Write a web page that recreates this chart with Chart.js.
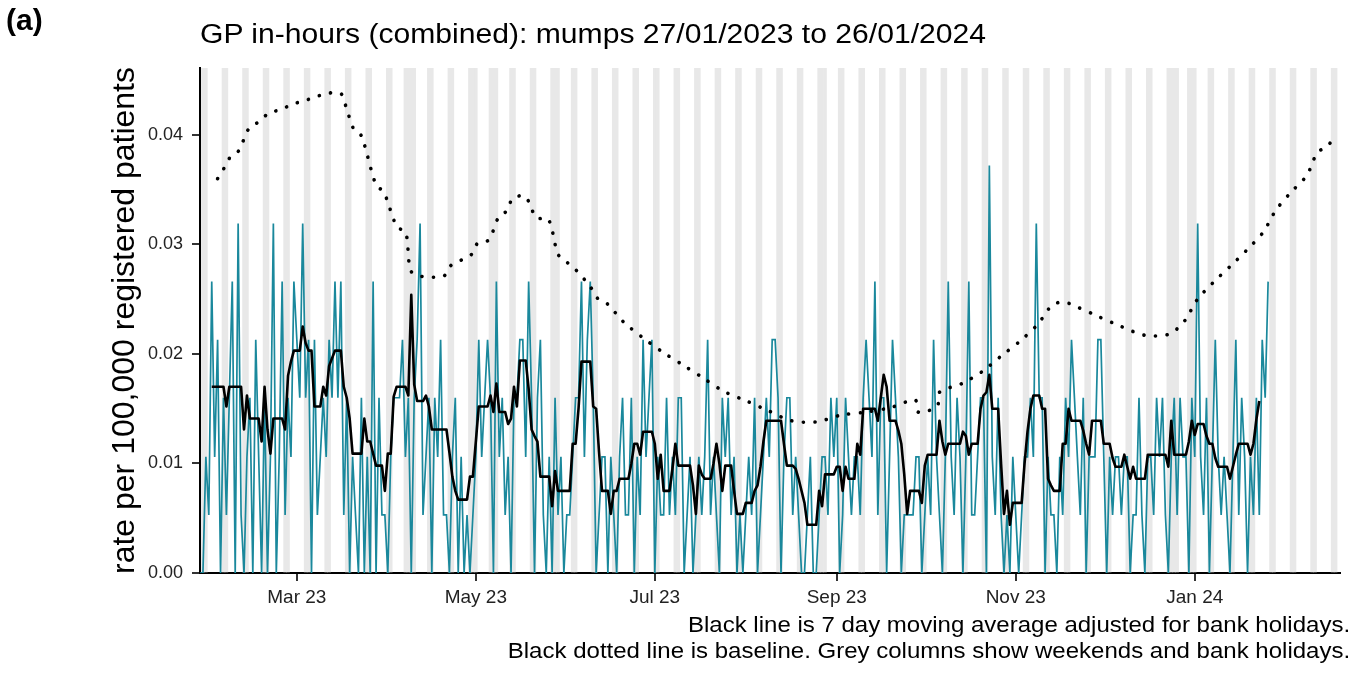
<!DOCTYPE html>
<html>
<head>
<meta charset="utf-8">
<script src="https://cdn.jsdelivr.net/npm/chart.js@4.4.1/dist/chart.umd.min.js"></script>
<style>
  body { margin: 0; background: #fff; font-family: "Liberation Sans", Arial, sans-serif; }
  #wrap { position: relative; width: 1362px; height: 675px; }
  canvas { position: absolute; left: 0; top: 0; }
  .txt { position: absolute; color: #000; white-space: nowrap; }
  #panel { left: 6px; top: 3px; font-size: 30px; font-weight: bold; }
  #title { left: 200px; top: 19px; font-size: 27px; transform: scaleX(1.115); transform-origin: left top; }
  #note { right: 12px; top: 612px; font-size: 21.5px; text-align: right; line-height: 26px;
          transform: scaleX(1.117); transform-origin: right top; }
</style>
</head>
<body>
<div id="wrap">
  <canvas id="chart" width="1362" height="675"></canvas>
  <div class="txt" id="panel">(a)</div>
  <div class="txt" id="title">GP in-hours (combined): mumps 27/01/2023 to 26/01/2024</div>
  <div class="txt" id="note">Black line is 7 day moving average adjusted for bank holidays.<br>Black dotted line is baseline. Grey columns show weekends and bank holidays.</div>
</div>
<script>
// day 0 = Fri 27/01/2023
const startDate = new Date(2023, 0, 27);
const lastShadedDay = 388;

const tickDays = [33, 94, 155, 217, 278, 339];
const tickLabels = ["Mar 23", "May 23", "Jul 23", "Sep 23", "Nov 23", "Jan 24"];
const yTicks = [0, 0.01, 0.02, 0.03, 0.04];

const bankHolidays = ["2023-04-07", "2023-04-10", "2023-05-01", "2023-05-08", "2023-05-29",
  "2023-08-28", "2023-12-25", "2023-12-26", "2024-01-01"];

// daily rate, days 0..364
const dailyRate = [
  0, 0, .0106, .0053, .0266, .0106, .0213,
  0, .016, .0053, .016, .0266, 0, .0319,
  .0053, 0, .0106, .016, 0, .0213, .0106,
  0, .016, 0, .0106, .0319, 0, .0106,
  .0266, .0053, .016, .0106, .0266, .0213, .016,
  .0319, .016, .0213, 0, .0213, .0053, .0106,
  .016, .0106, .0213, .016, .0266, .016, .0266,
  .0053, .016, 0, .0106, .0053, 0, .016,
  0, .0106, 0, .0266, 0, .016, .0053,
  .0053, 0, .0106, .016, .016, .016, .0213,
  .0106, .016, 0, .016, .0213, .0319, .0053,
  .0106, .016, 0, .016, .0106, .0213, .0053,
  .0053, 0, .0106, .016, 0, .0106, 0,
  .0053, 0, .0053, .0106, .0213, .0106, .016,
  .0213, .016, 0, .0266, .0106, .016, .0053,
  .0106, 0, .016, .016, .0213, .0213, .0106,
  .0266, .016, 0, .016, .0213, .0053, 0,
  .0106, 0, .016, .0053, .0106, 0, .0053,
  .0053, .0106, .016, .016, .0266, .0106, .0213,
  .0266, .016, 0, .0053, .0106, .0106, 0,
  .0106, .0053, 0, .0106, .016, .0053, .0053,
  .016, 0, .0106, .0053, .0213, .0106, .016,
  .0213, 0, .0106, .0053, .0053, .016, .0053,
  .0106, .0053, .016, .016, 0, .0053, .0106,
  0, .0053, .0106, .0053, .0106, .0213, .0053,
  .0106, .0053, 0, .016, .0106, .016, .0053,
  .0106, 0, .0053, 0, .0053, .0106, .0053,
  .016, 0, .0053, .0106, .016, .0106, .0213,
  .0213, .016, 0, .0106, .016, .016, .0053,
  .0106, .0053, 0, 0, .0053, .0106, 0,
  0, .0053, .0106, .0106, .0053, .016, .0106,
  .016, 0, .0053, .016, .0106, .0053, .0106,
  .0106, .0053, .016, .0213, .016, .0106, .0266,
  .0053, .016, .016, 0, .0106, .0213, .016,
  .0106, 0, .0053, .0053, .0053, .0053, .0106,
  .0106, 0, .0053, .0106, .0053, .0213, .0106,
  .0053, 0, .0106, .0266, .0106, .0053, .016,
  .0106, 0, .0106, .0266, .0053, .0053, .0106,
  .016, .016, 0, .0372, .0106, .0053, .016,
  .0053, 0, .0053, 0, .0106, .0053, 0,
  .0053, .0106, .0106, .016, .0106, .0319, .016,
  .016, 0, .0106, .0053, .0053, 0, .0106,
  .0053, .016, .0106, .0213, .016, .0106, .0053,
  .016, 0, .0106, .0106, .0106, .0213, .0213,
  .0106, 0, .0106, .0053, .0106, .0106, .0053,
  .0106, .0106, 0, .0053, .0053, .016, .0053,
  0, .0106, .0106, .0053, .016, .0106, .016,
  .0053, 0, .0106, .016, .0053, .016, .0106,
  .0106, 0, .016, .0106, .0319, .0106, .0053,
  .016, 0, .0106, .0213, .0106, .0053, .0106,
  .0053, 0, .0106, .0213, .0053, .016, .0106,
  0, .0106, .0053, .016, .0053, .0213, .016,
  .0266
];

// 7 day moving average, days 4..361
const maStartDay = 4;
const movingAvg = [
  .0170, .0170, .0170, .0170, .0170, .0152, .0170,
  .0170, .0170, .0170, .0170, .0131, .0162, .0141,
  .0141, .0141, .0141, .0120, .0170, .0131, .0109,
  .0141, .0141, .0141, .0141, .0131, .0180, .0193,
  .0203, .0203, .0203, .0225, .0210, .0203, .0203,
  .0152, .0152, .0152, .0170, .0162, .0189, .0196,
  .0203, .0203, .0203, .0170, .0160, .0141, .0109,
  .0109, .0109, .0109, .0141, .0120, .0120, .0109,
  .0098, .0098, .0098, .0075, .0109, .0109, .0161,
  .0170, .0170, .0170, .0170, .0162, .0254, .0172,
  .0157, .0157, .0157, .0162, .0152, .0131, .0131,
  .0131, .0131, .0131, .0131, .0110, .0088, .0075,
  .0067, .0067, .0067, .0067, .0088, .0088, .0120,
  .0152, .0152, .0152, .0152, .0162, .0147, .0173,
  .0147, .0147, .0147, .0136, .0141, .0170, .0152,
  .0194, .0194, .0194, .0168, .0131, .0125, .0120,
  .0088, .0088, .0088, .0088, .0061, .0093, .0075,
  .0075, .0075, .0075, .0075, .0118, .0118, .0150,
  .0193, .0193, .0193, .0193, .0152, .0150, .0110,
  .0075, .0075, .0075, .0054, .0075, .0075, .0086,
  .0086, .0086, .0086, .0100, .0118, .0118, .0108,
  .0129, .0129, .0129, .0129, .0118, .0086, .0108,
  .0075, .0075, .0075, .0095, .0118, .0098, .0098,
  .0098, .0098, .0098, .0080, .0054, .0098, .0090,
  .0086, .0086, .0086, .0100, .0118, .0100, .0075,
  .0098, .0098, .0098, .0075, .0054, .0054, .0054,
  .0064, .0064, .0064, .0075, .0080, .0097, .0120,
  .0139, .0139, .0139, .0139, .0139, .0139, .0118,
  .0098, .0098, .0098, .0095, .0086, .0075, .0064,
  .0044, .0044, .0044, .0044, .0075, .0061, .0090,
  .0090, .0090, .0090, .0097, .0097, .0075, .0097,
  .0086, .0086, .0086, .0118, .0108, .0150, .0150,
  .0150, .0150, .0150, .0139, .0160, .0181, .0170,
  .0139, .0139, .0139, .0130, .0118, .0090, .0054,
  .0075, .0075, .0075, .0075, .0064, .0098, .0108,
  .0108, .0108, .0108, .0139, .0120, .0108, .0118,
  .0118, .0118, .0118, .0118, .0129, .0125, .0108,
  .0118, .0118, .0118, .0150, .0162, .0165, .0181,
  .0150, .0150, .0150, .0100, .0054, .0075, .0044,
  .0064, .0064, .0064, .0064, .0100, .0129, .0150,
  .0162, .0162, .0162, .0150, .0150, .0086, .0080,
  .0075, .0075, .0075, .0118, .0118, .0150, .0139,
  .0139, .0139, .0139, .0130, .0118, .0108, .0139,
  .0139, .0139, .0139, .0118, .0118, .0118, .0105,
  .0097, .0097, .0097, .0108, .0097, .0086, .0097,
  .0086, .0086, .0086, .0086, .0108, .0108, .0108,
  .0108, .0108, .0108, .0108, .0097, .0139, .0108,
  .0108, .0108, .0108, .0108, .0120, .0139, .0126,
  .0136, .0136, .0136, .0125, .0118, .0118, .0105,
  .0097, .0097, .0097, .0097, .0086, .0097, .0108,
  .0118, .0118, .0118, .0118, .0108, .0118, .0140,
  .0157
];

// baseline, read at irregular days
const baselineDays = [6, 8.3, 10.4, 13.4, 15.1, 17, 20.2, 23.5, 27.6, 31.5, 35.5, 39.8, 43.7, 47.9,
  49.6, 52.4, 55, 60, 62.6, 67.1, 70.1, 71.8, 75.2, 79, 83.1, 85.6, 89.3, 92.6, 94.6, 98.4,
  101.8, 104.8, 106.5, 110.7, 112.8, 114.6, 118.7, 122, 124.9, 128, 133.1, 135.4, 138.7, 144.4,
  150.8, 157.5, 164.5, 171.5, 178.4, 186.3, 193.8, 201.5, 210.2, 218.2, 227, 235.4, 243.7,
  244.7, 248.1, 251.4, 252, 259.7, 266.6, 273, 279.6, 285.5, 290.6, 294.8, 298.8, 306.3, 314,
  322, 330.2, 335.5, 339.7, 345.2, 351.1, 356.8, 362.3, 366.6, 371.6, 377.2, 380.8, 384, 386.6];
const baselineRate = [.0360, .0370, .0380, .0386, .0397, .0407, .0412, .0420, .0423, .0428, .0431, .0435, .0438, .0438,
  .0427, .0405, .0399, .0354, .0348, .0316, .0311, .0276, .0271, .0270, .0271, .0281, .0286, .0291, .0301, .0304,
  .0325, .0331, .0342, .0344, .0334, .0324, .0323, .0291, .0284, .0277, .0261, .0251, .0246, .0229,
  .0215, .0202, .0190, .0178, .0166, .0157, .0148, .0139, .0138, .0144, .0147, .0151, .0158,
  .0147, .0148, .0153, .0165, .0173, .0184, .0198, .0212, .0227, .0245, .0247, .0243, .0234, .0225,
  .0217, .0218, .0230, .0249, .0265, .0280, .0295, .0311, .0331, .0347, .0363, .0384, .0389, .0398];

const yTop = 0.0461;

const holidayIdx = bankHolidays.map((s) => {
  const [y, m, d] = s.split("-").map(Number);
  return Math.round((new Date(y, m - 1, d) - startDate) / 86400000);
});
const shaded = [];
for (let i = 0; i <= lastShadedDay; i++) {
  const dt = new Date(startDate.getFullYear(), startDate.getMonth(), startDate.getDate() + i);
  const dow = dt.getDay();
  if (dow === 0 || dow === 6 || holidayIdx.includes(i)) shaded.push({ x: i, y: yTop });
}

const ctx = document.getElementById("chart");
const font = "'Liberation Sans', Arial, sans-serif";

new Chart(ctx, {
  type: "line",
  data: {
    datasets: [
      {
        type: "bar",
        data: shaded,
        backgroundColor: "#e8e8e8",
        borderWidth: 0,
        barPercentage: 1,
        categoryPercentage: 1,
        order: 10,
      },
      {
        data: dailyRate.map((v, i) => ({ x: i, y: v })),
        borderColor: "#1a889c",
        borderWidth: 1.7,
        pointRadius: 0,
        tension: 0,
        order: 3,
      },
      {
        data: baselineDays.map((d, i) => ({ x: d, y: baselineRate[i] })),
        borderColor: "#000",
        borderWidth: 3.6,
        borderDash: [0.1, 11.5],
        borderCapStyle: "round",
        pointRadius: 0,
        tension: 0.3,
        order: 2,
      },
      {
        data: movingAvg.map((v, i) => ({ x: i + maStartDay, y: v })),
        borderColor: "#000",
        borderWidth: 2.6,
        borderJoinStyle: "round",
        pointRadius: 0,
        tension: 0,
        order: 1,
      },
    ],
  },
  options: {
    responsive: false,
    animation: false,
    layout: { padding: { left: 104, top: 68, right: 22, bottom: 62 } },
    plugins: { legend: { display: false }, tooltip: { enabled: false } },
    scales: {
      x: {
        type: "linear",
        min: 0,
        max: 388.5,
        offset: false,
        grid: { display: true, offset: false, drawOnChartArea: false, drawTicks: true, tickLength: 8, color: "#333", lineWidth: 2 },
        border: { display: true, color: "#000", width: 2 },
        afterBuildTicks: (s) => { s.ticks = tickDays.map((v) => ({ value: v })); },
        afterFit: (s) => { s.height = 40; },
        ticks: {
          autoSkip: false,
          maxRotation: 0,
          padding: 5,
          color: "#222",
          font: { family: font, size: 19 },
          callback: (v) => tickLabels[tickDays.indexOf(v)],
        },
      },
      y: {
        min: 0,
        max: yTop,
        grid: { display: true, drawOnChartArea: false, drawTicks: true, tickLength: 8, color: "#333", lineWidth: 2 },
        border: { display: true, color: "#000", width: 2 },
        afterBuildTicks: (s) => { s.ticks = yTicks.map((v) => ({ value: v })); },
        afterFit: (s) => { s.width = 96; },
        ticks: {
          padding: 9,
          color: "#222",
          font: { family: font, size: 18 },
          callback: (v) => v.toFixed(2),
        },
        title: {
          display: true,
          text: "rate per 100,000 registered patients",
          color: "#000",
          font: { family: font, size: 32 },
          padding: { top: 2, bottom: 2 },
        },
      },
    },
  },
});
</script>
</body>
</html>
